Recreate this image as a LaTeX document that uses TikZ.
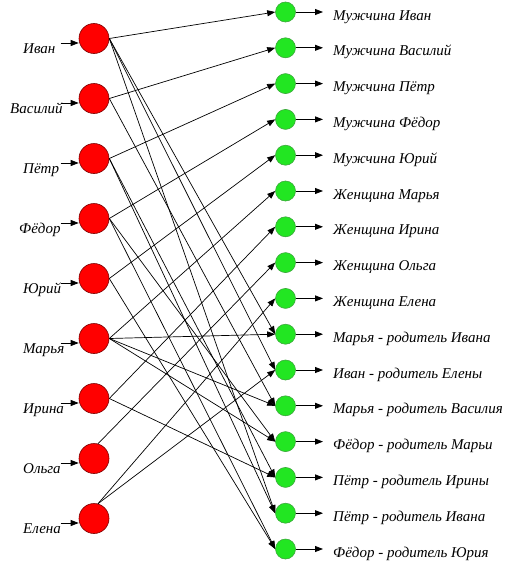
\documentclass[tikz,border=0pt]{standalone}
\usepackage{fontspec}
\setmainfont{Liberation Serif}
\usetikzlibrary{arrows.meta,positioning}
\definecolor{objRed}{HTML}{FF0000}
\definecolor{objRedEdge}{HTML}{7A0000}
\definecolor{factGreen}{HTML}{22E622}
\definecolor{factGreenEdge}{HTML}{3CA83C}
\tikzset{
  >={Triangle[length=8pt,width=6pt]},
  link/.style={->, draw=black, line width=0.7pt},
  tip/.style={->, draw=black, line width=0.8pt},
  objNode/.style={circle, draw=objRedEdge, fill=objRed, line width=0.6pt,
                  minimum size=30pt, inner sep=0pt},
  factNode/.style={circle, draw=factGreenEdge, fill=factGreen, line width=0.6pt,
                   minimum size=20pt, inner sep=0pt},
  nameLabel/.style={font=\itshape\fontsize{15}{18}\selectfont, inner sep=0pt,
                    anchor=base west}
}

\begin{document}
\begin{tikzpicture}[x=1pt, y=-1pt]
\useasboundingbox (0,0) rectangle (517,570);

% ------------------------------------------------------------
% LEFT: persons
% ------------------------------------------------------------
\node[objNode] (ivan)   at (94,38.5)  {};
\node[objNode] (vasily) at (94,98.5)  {};
\node[objNode] (petr)   at (94,158.5) {};
\node[objNode] (fedor)  at (94,218.5) {};
\node[objNode] (yury)   at (94,278.5) {};
\node[objNode] (marya)  at (94,338.5) {};
\node[objNode] (irina)  at (94,398.5) {};
\node[objNode] (olga)   at (94,458.5) {};
\node[objNode] (elena)  at (94,518.5) {};

\node[nameLabel] (tIvan)   at (23,53)  {Иван};
\node[nameLabel] (tVasily) at (10,113) {Василий};
\node[nameLabel] (tPetr)   at (23,173) {Пётр};
\node[nameLabel] (tFedor)  at (19,233) {Фёдор};
\node[nameLabel] (tYury)   at (23,293) {Юрий};
\node[nameLabel] (tMarya)  at (23,353) {Марья};
\node[nameLabel] (tIrina)  at (23,413) {Ирина};
\node[nameLabel] (tOlga)   at (23,473) {Ольга};
\node[nameLabel] (tElena)  at (23,533) {Елена};

% input arrows
\draw[tip] ([xshift=-18pt,yshift=-4.5pt]ivan.west)   -- ([yshift=-4.5pt]ivan.west);
\draw[tip] ([xshift=-18pt,yshift=-4.5pt]vasily.west) -- ([yshift=-4.5pt]vasily.west);
\draw[tip] ([xshift=-18pt,yshift=-4.5pt]petr.west)   -- ([yshift=-4.5pt]petr.west);
\draw[tip] ([xshift=-18pt,yshift=-4.5pt]fedor.west)  -- ([yshift=-4.5pt]fedor.west);
\draw[tip] ([xshift=-18pt,yshift=-4.5pt]yury.west)   -- ([yshift=-4.5pt]yury.west);
\draw[tip] ([xshift=-18pt,yshift=-4.5pt]marya.west)  -- ([yshift=-4.5pt]marya.west);
\draw[tip] ([xshift=-18pt,yshift=-4.5pt]irina.west)  -- ([yshift=-4.5pt]irina.west);
\draw[tip] ([xshift=-18pt,yshift=-4.5pt]olga.west)   -- ([yshift=-4.5pt]olga.west);
\draw[tip] ([xshift=-18pt,yshift=-4.5pt]elena.west)  -- ([yshift=-4.5pt]elena.west);

% ------------------------------------------------------------
% RIGHT: facts
% ------------------------------------------------------------
\node[factNode] (mIvan)        at (285.5,12)    {};
\node[factNode] (mVasily)      at (285.5,47.8)  {};
\node[factNode] (mPetr)        at (285.5,83.6)  {};
\node[factNode] (mFedor)       at (285.5,119.4) {};
\node[factNode] (mYury)        at (285.5,155.2) {};
\node[factNode] (wMarya)       at (285.5,191)   {};
\node[factNode] (wIrina)       at (285.5,226.8) {};
\node[factNode] (wOlga)        at (285.5,262.6) {};
\node[factNode] (wElena)       at (285.5,298.4) {};
\node[factNode] (pMaryaIvan)   at (285.5,334.2) {};
\node[factNode] (pIvanElena)   at (285.5,370)   {};
\node[factNode] (pMaryaVasily) at (285.5,405.8) {};
\node[factNode] (pFedorMarya)  at (285.5,441.6) {};
\node[factNode] (pPetrIrina)   at (285.5,477.4) {};
\node[factNode] (pPetrIvan)    at (285.5,513.2) {};
\node[factNode] (pFedorYury)   at (285.5,549)   {};

\node[nameLabel] (tmIvan)        at (333,20)    {Мужчина Иван};
\node[nameLabel] (tmVasily)      at (333,55.8)  {Мужчина Василий};
\node[nameLabel] (tmPetr)        at (333,91.6)  {Мужчина Пётр};
\node[nameLabel] (tmFedor)       at (333,127.4) {Мужчина Фёдор};
\node[nameLabel] (tmYury)        at (333,163.2) {Мужчина Юрий};
\node[nameLabel] (twMarya)       at (333,199)   {Женщина Марья};
\node[nameLabel] (twIrina)       at (333,234.8) {Женщина Ирина};
\node[nameLabel] (twOlga)        at (333,270.6) {Женщина Ольга};
\node[nameLabel] (twElena)       at (333,306.4) {Женщина Елена};
\node[nameLabel] (tpMaryaIvan)   at (333,342.2) {Марья - родитель Ивана};
\node[nameLabel] (tpIvanElena)   at (333,378)   {Иван - родитель Елены};
\node[nameLabel] (tpMaryaVasily) at (333,413.8) {Марья - родитель Василия};
\node[nameLabel] (tpFedorMarya)  at (333,449.6) {Фёдор - родитель Марьи};
\node[nameLabel] (tpPetrIrina)   at (333,485.4) {Пётр - родитель Ирины};
\node[nameLabel] (tpPetrIvan)    at (333,521.2) {Пётр - родитель Ивана};
\node[nameLabel] (tpFedorYury)   at (333,557)   {Фёдор - родитель Юрия};

% output arrows
\draw[tip, shorten >=10pt] (mIvan)        -- (mIvan -| tmIvan.west);
\draw[tip, shorten >=10pt] (mVasily)      -- (mVasily -| tmVasily.west);
\draw[tip, shorten >=10pt] (mPetr)        -- (mPetr -| tmPetr.west);
\draw[tip, shorten >=10pt] (mFedor)       -- (mFedor -| tmFedor.west);
\draw[tip, shorten >=10pt] (mYury)        -- (mYury -| tmYury.west);
\draw[tip, shorten >=10pt] (wMarya)       -- (wMarya -| twMarya.west);
\draw[tip, shorten >=10pt] (wIrina)       -- (wIrina -| twIrina.west);
\draw[tip, shorten >=10pt] (wOlga)        -- (wOlga -| twOlga.west);
\draw[tip, shorten >=10pt] (wElena)       -- (wElena -| twElena.west);
\draw[tip, shorten >=10pt] (pMaryaIvan)   -- (pMaryaIvan -| tpMaryaIvan.west);
\draw[tip, shorten >=10pt] (pIvanElena)   -- (pIvanElena -| tpIvanElena.west);
\draw[tip, shorten >=10pt] (pMaryaVasily) -- (pMaryaVasily -| tpMaryaVasily.west);
\draw[tip, shorten >=10pt] (pFedorMarya)  -- (pFedorMarya -| tpFedorMarya.west);
\draw[tip, shorten >=10pt] (pPetrIrina)   -- (pPetrIrina -| tpPetrIrina.west);
\draw[tip, shorten >=10pt] (pPetrIvan)    -- (pPetrIvan -| tpPetrIvan.west);
\draw[tip, shorten >=10pt] (pFedorYury)   -- (pFedorYury -| tpFedorYury.west);

% ------------------------------------------------------------
% links person -> fact (east side out, west side in)
% ------------------------------------------------------------
\draw[link] (ivan.east)   -- (mIvan.west);
\draw[link] (vasily.east) -- (mVasily.west);
\draw[link] (petr.east)   -- (mPetr.west);
\draw[link] (fedor.east)  -- (mFedor.west);
\draw[link] (yury.east)   -- (mYury.west);
\draw[link] (marya.east)  -- (wMarya.west);
\draw[link] (irina.east)  -- (wIrina.west);
\draw[link] (olga.75)     -- (wOlga.west);
\draw[link] (elena.75)    -- (wElena.west);

\draw[link] (marya.east)  -- (pMaryaIvan.west);
\draw[link] (ivan.east)   -- (pMaryaIvan.west);
\draw[link] (ivan.east)   -- (pIvanElena.west);
\draw[link] (elena.75)    -- (pIvanElena.west);
\draw[link] (marya.east)  -- (pMaryaVasily.west);
\draw[link] (vasily.east) -- (pMaryaVasily.west);
\draw[link] (fedor.east)  -- (pFedorMarya.west);
\draw[link] (marya.east)  -- (pFedorMarya.west);
\draw[link] (petr.east)   -- (pPetrIrina.west);
\draw[link] (irina.east)  -- (pPetrIrina.west);
\draw[link] (petr.east)   -- (pPetrIvan.west);
\draw[link] (ivan.east)   -- (pPetrIvan.west);
\draw[link] (fedor.east)  -- (pFedorYury.west);
\draw[link] (yury.east)   -- (pFedorYury.west);

\end{tikzpicture}
\end{document}
